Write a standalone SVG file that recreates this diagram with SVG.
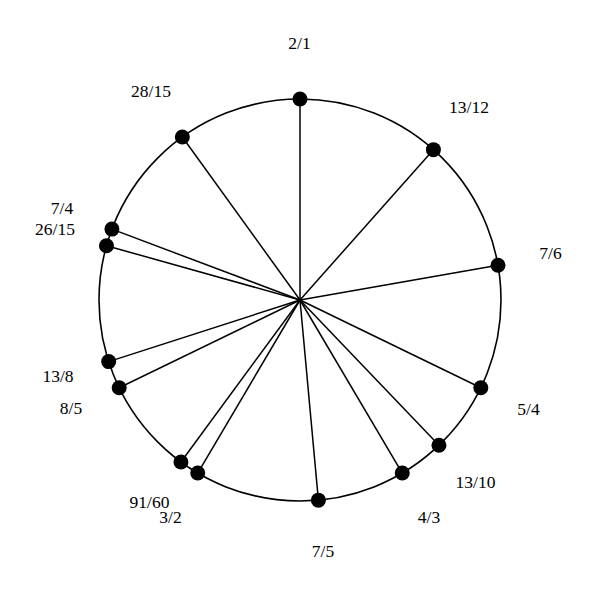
<svg xmlns="http://www.w3.org/2000/svg" width="600" height="600" viewBox="0 0 600 600">
<style>
.ring{fill:none;stroke:#000;stroke-width:1.6}
.spoke{stroke:#000;stroke-width:1.5}
.dot{fill:#000}
.lbl{font-family:"Liberation Serif","Times New Roman",serif;font-size:17.5px;fill:#000;text-anchor:middle}
</style>
<rect width="600" height="600" fill="#fff"/>
<circle class="ring" cx="300" cy="300" r="201"/>
<g id="connectors">
<line class="spoke" x1="300" y1="300" x2="300" y2="99"/>
<line class="spoke" x1="300" y1="300" x2="433.41" y2="149.66"/>
<line class="spoke" x1="300" y1="300" x2="497.99" y2="265.30"/>
<line class="spoke" x1="300" y1="300" x2="480.82" y2="387.78"/>
<line class="spoke" x1="300" y1="300" x2="438.96" y2="445.23"/>
<line class="spoke" x1="300" y1="300" x2="402.26" y2="473.04"/>
<line class="spoke" x1="300" y1="300" x2="318.38" y2="500.16"/>
<line class="spoke" x1="300" y1="300" x2="197.73" y2="473.04"/>
<line class="spoke" x1="300" y1="300" x2="180.94" y2="461.94"/>
<line class="spoke" x1="300" y1="300" x2="119.18" y2="387.78"/>
<line class="spoke" x1="300" y1="300" x2="108.67" y2="361.60"/>
<line class="spoke" x1="300" y1="300" x2="106.48" y2="245.69"/>
<line class="spoke" x1="300" y1="300" x2="111.91" y2="229.12"/>
<line class="spoke" x1="300" y1="300" x2="182.33" y2="137.04"/>
</g>
<g id="n-2-1"><circle class="dot" cx="300" cy="99" r="7.5"/><text class="lbl" x="299.5" y="49">2/1</text></g>
<g id="n-13-12"><circle class="dot" cx="433.41" cy="149.66" r="7.5"/><text class="lbl" x="469" y="113">13/12</text></g>
<g id="n-7-6"><circle class="dot" cx="497.99" cy="265.30" r="7.5"/><text class="lbl" x="550.5" y="259">7/6</text></g>
<g id="n-5-4"><circle class="dot" cx="480.82" cy="387.78" r="7.5"/><text class="lbl" x="528.5" y="415">5/4</text></g>
<g id="n-13-10"><circle class="dot" cx="438.96" cy="445.23" r="7.5"/><text class="lbl" x="475.5" y="488">13/10</text></g>
<g id="n-4-3"><circle class="dot" cx="402.26" cy="473.04" r="7.5"/><text class="lbl" x="429" y="523">4/3</text></g>
<g id="n-7-5"><circle class="dot" cx="318.38" cy="500.16" r="7.5"/><text class="lbl" x="323" y="557">7/5</text></g>
<g id="n-3-2"><circle class="dot" cx="197.73" cy="473.04" r="7.5"/><text class="lbl" x="170.5" y="523">3/2</text></g>
<g id="n-91-60"><circle class="dot" cx="180.94" cy="461.94" r="7.5"/><text class="lbl" x="149.5" y="508">91/60</text></g>
<g id="n-8-5"><circle class="dot" cx="119.18" cy="387.78" r="7.5"/><text class="lbl" x="71" y="414">8/5</text></g>
<g id="n-13-8"><circle class="dot" cx="108.67" cy="361.60" r="7.5"/><text class="lbl" x="58" y="382">13/8</text></g>
<g id="n-26-15"><circle class="dot" cx="106.48" cy="245.69" r="7.5"/><text class="lbl" x="55" y="235">26/15</text></g>
<g id="n-7-4"><circle class="dot" cx="111.91" cy="229.12" r="7.5"/><text class="lbl" x="62" y="214">7/4</text></g>
<g id="n-28-15"><circle class="dot" cx="182.33" cy="137.04" r="7.5"/><text class="lbl" x="151" y="97">28/15</text></g>
</svg>
